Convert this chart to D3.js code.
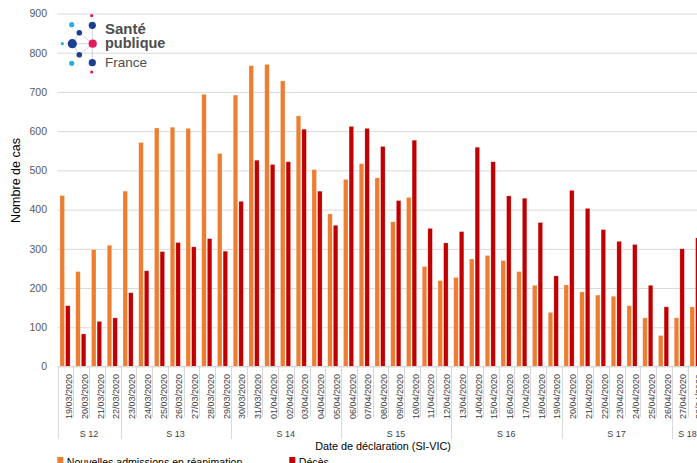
<!DOCTYPE html>
<html><head><meta charset="utf-8">
<script src="https://cdn.jsdelivr.net/npm/d3@7"></script>
<style>body{margin:0;background:#fff;overflow:hidden} svg{display:block}</style>
</head><body><svg id="c" width="697" height="463"></svg>
<script>
const dates = ["19/03/2020","20/03/2020","21/03/2020","22/03/2020","23/03/2020","24/03/2020","25/03/2020","26/03/2020","27/03/2020","28/03/2020","29/03/2020","30/03/2020","31/03/2020",
"01/04/2020","02/04/2020","03/04/2020","04/04/2020","05/04/2020","06/04/2020","07/04/2020","08/04/2020","09/04/2020","10/04/2020","11/04/2020","12/04/2020","13/04/2020","14/04/2020","15/04/2020","16/04/2020","17/04/2020","18/04/2020","19/04/2020","20/04/2020","21/04/2020","22/04/2020","23/04/2020","24/04/2020","25/04/2020","26/04/2020","27/04/2020","28/04/2020"];
const admissions = [436,242,298,309,447,571,608,610,607,694,543,692,767,770,728,639,502,389,477,517,481,369,431,255,219,227,274,283,270,242,207,138,208,190,182,179,155,124,79,124,152];
const deces = [155,83,115,124,188,244,293,316,305,326,294,421,526,515,522,605,447,360,612,607,561,423,577,352,315,344,559,522,435,429,367,231,449,403,349,319,311,207,152,300,328];
const weekLabels = ["S 12","S 13","S 14","S 15","S 16","S 17","S 18"];
const weekSizes = [4,7,7,7,7,7,2];
const seriesNames = ["Nouvelles admissions en réanimation","Décès"];
const seriesColors = ["#ED7D31","#C00000"];
const yTicks = [0,100,200,300,400,500,600,700,800,900];

const svg = d3.select("#c");
const W = 697;
const left = 57.5, step = 15.75;
const FONT = "'Liberation Sans', Arial, sans-serif";

const x0 = d3.scaleBand().domain(dates).range([left, left + dates.length * step]);
const x1 = d3.scaleBand().domain([0,1]).range([2.5, 12.6]).paddingInner(0.2);
const y = d3.scaleLinear().domain([0,900]).range([366.5, 13.5]);

// gridlines + y tick labels
const yAxis = d3.axisLeft(y).tickValues(yTicks).tickSize(-(W - left)).tickPadding(10.5);
const gy = svg.append("g").attr("transform", `translate(${left},0)`).call(yAxis);
gy.select(".domain").remove();
gy.selectAll(".tick line").attr("stroke", "#d9d9d9").attr("stroke-width", 1);
gy.selectAll(".tick text").attr("fill", "#595959").style("font-family", FONT).style("font-size", "10.5px");

// logo
const logo = svg.append("g");
const links = [[72.3,43.7,92.7,43.7],[79.3,32.7,92.7,43.7],[79.3,54.7,92.7,43.7],[92.3,25.3,92.3,62.7],[72.3,43.7,79.3,32.7],[72.3,43.7,79.3,54.7]];
logo.selectAll("line").data(links).join("line")
  .attr("x1", d=>d[0]).attr("y1", d=>d[1]).attr("x2", d=>d[2]).attr("y2", d=>d[3])
  .attr("stroke", "#c8c8d4").attr("stroke-width", 0.8);
const dots = [[91.7,15.7,1.6,"#e5195e"],[92.3,25.3,3.6,"#1c3f94"],[71.7,24.7,2.6,"#22b1e8"],[79.3,32.7,2.8,"#1c3f94"],
  [62.3,43.7,1.6,"#22b1e8"],[72.3,43.7,4.6,"#1c3f94"],[92.7,43.7,4.1,"#e5195e"],[79.3,54.7,2.8,"#1c3f94"],
  [71.7,63.3,2.6,"#22b1e8"],[92.3,62.7,3.6,"#1c3f94"],[91.7,72,1.6,"#e5195e"]];
logo.selectAll("circle").data(dots).join("circle")
  .attr("cx", d=>d[0]).attr("cy", d=>d[1]).attr("r", d=>d[2]).attr("fill", d=>d[3]);
logo.append("text").attr("x",105).attr("y",34).text("Santé")
  .style("font-family",FONT).style("font-weight","bold").style("font-size","15px").attr("fill","#4d4d4f");
logo.append("text").attr("x",105).attr("y",48).text("publique")
  .style("font-family",FONT).style("font-weight","bold").style("font-size","14.5px").attr("fill","#4d4d4f");
logo.append("text").attr("x",105).attr("y",66.5).text("France")
  .style("font-family",FONT).style("font-size","13.5px").attr("fill","#4d4d4f");

// bars
const groups = svg.append("g").selectAll("g").data(dates).join("g")
  .attr("transform", d => `translate(${x0(d)},0)`);
groups.selectAll("rect").data((d,i) => [admissions[i], deces[i]]).join("rect")
  .attr("x", (d,j) => x1(j)).attr("width", x1.bandwidth())
  .attr("y", d => y(d)).attr("height", d => y(0) - y(d))
  .attr("fill", (d,j) => seriesColors[j])
  .attr("stroke", "#fff").attr("stroke-opacity", 0.35).attr("stroke-width", 0.6);

// x axis labels (dates)
const xAxis = d3.axisBottom(x0).tickSize(0).tickPadding(0);
const gx = svg.append("g").attr("transform", `translate(0,366.5)`).call(xAxis);
gx.select(".domain").remove();
gx.selectAll(".tick text")
  .attr("transform", "translate(6.8,7.5) rotate(-90)")
  .attr("text-anchor", "end").attr("dy", 0).attr("y", 0).attr("x", 0)
  .attr("fill", "#404040").style("font-family", FONT).style("font-size", "9px");

// separators
const sep = svg.append("g").attr("stroke", "#d9d9d9").attr("stroke-width", 1);
let cum = 0;
const weekStarts = weekSizes.map(n => { const s = cum; cum += n; return s; });
const weekStartSet = new Set(weekStarts);
dates.forEach((d,i) => {
  const xx = Math.round(x0(d)) + 0.5;
  sep.append("line").attr("x1", xx).attr("x2", xx).attr("y1", 366.5)
    .attr("y2", weekStartSet.has(i) ? 439 : 417);
});
sep.append("line").attr("x1", left).attr("x2", W).attr("y1", 366.5).attr("y2", 366.5);

// week labels
svg.append("g").selectAll("text").data(weekLabels).join("text")
  .attr("x", (d,i) => x0(dates[weekStarts[i]]) + weekSizes[i] * step / 2)
  .attr("y", 437).attr("text-anchor", "middle").text(d => d)
  .attr("fill", "#404040").style("font-family", FONT).style("font-size", "9px");

// axis titles
svg.append("text").attr("transform", "translate(19.5,180.5) rotate(-90)").attr("text-anchor","middle")
  .text("Nombre de cas").attr("fill","#000").style("font-family",FONT).style("font-size","12.5px");
svg.append("text").attr("x", 383).attr("y", 449.5).attr("text-anchor","middle")
  .text("Date de déclaration (SI-VIC)").attr("fill","#000").style("font-family",FONT).style("font-size","10.8px");

// legend
const legX = [57.3, 289.3];
const leg = svg.append("g").selectAll("g").data(seriesNames).join("g")
  .attr("transform", (d,i) => `translate(${legX[i]},0)`);
leg.append("rect").attr("x",0).attr("y",457).attr("width",6).attr("height",6).attr("fill",(d,i)=>seriesColors[i]);
leg.append("text").attr("x",9.5).attr("y",465.5).text(d=>d)
  .attr("fill","#000").style("font-family",FONT).style("font-size","10.6px");
</script></body></html>
